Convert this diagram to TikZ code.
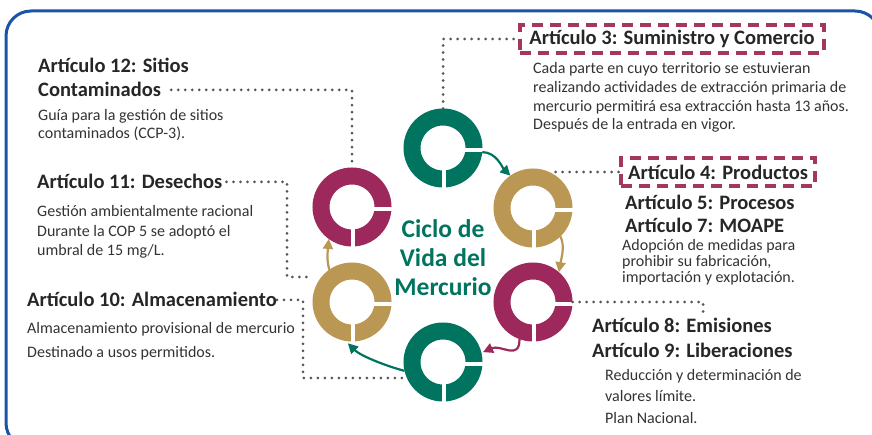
\documentclass[tikz,border=0pt]{standalone}
\usepackage{fontspec}
\setmainfont{Carlito}
\usetikzlibrary{arrows.meta}
\definecolor{tealc}{RGB}{0,116,94}
\definecolor{goldc}{RGB}{186,151,82}
\definecolor{magc}{RGB}{157,40,92}
\definecolor{dashc}{RGB}{163,55,95}
\definecolor{dotc}{RGB}{85,85,85}
\definecolor{txtc}{RGB}{38,38,38}
\definecolor{bodyc}{RGB}{51,51,51}
\definecolor{framec}{RGB}{28,82,168}
\tikzset{
  ring/.style={circle,draw=#1,line width=17pt,minimum size=62pt,inner sep=0pt},
  ringcut/.style={white,line width=3.5pt},
  flowarrow/.style={#1,line width=2.2pt,-{Triangle[length=10pt,width=10pt]}},
  dots/.style={dotc,line width=3pt,line cap=round,dash pattern=on 0pt off 7pt},
  artbox/.style={draw=dashc,line width=4pt,dash pattern=on 11pt off 7pt,inner xsep=9pt,inner ysep=0pt,minimum height=28pt,text=txtc,font=\bfseries\fontsize{20.5}{24}\selectfont},
  arttitle/.style={anchor=base west,inner sep=0pt,text=txtc,font=\bfseries\fontsize{20.5}{24}\selectfont},
  % base = baseline of the last line
  artbody/.style={anchor=base west,inner sep=0pt,align=left,text=bodyc,font=\fontsize{16}{#1}\selectfont},
}
\begin{document}
\begin{tikzpicture}[x=1pt,y=-1pt]
  \useasboundingbox (0,0) rectangle (872,435);
  % frame
  \draw[framec,line width=3pt,rounded corners=25pt] (6,11) rectangle (880,448);
  % Define the rings
  \node[ring=tealc] (r1) at (443,148) {};
  \node[ring=goldc] (r2) at (533,208) {};
  \node[ring=magc]  (r3) at (533,302) {};
  \node[ring=tealc] (r4) at (443,362) {};
  \node[ring=goldc] (r5) at (352,302) {};
  \node[ring=magc]  (r6) at (352,207) {};
  \foreach \r in {r1,r2,r3,r4,r5,r6} {
    \draw[ringcut] ([shift={(20,2)}]\r.center) -- ++(21,0);
    \draw[ringcut] ([shift={(1,20)}]\r.center) -- ++(0,21);}
  % cycle arrows
  \draw[flowarrow=tealc] (r1.-6) .. controls +(14,0) and +(-8,-8) .. (r2.125);
  \draw[flowarrow=goldc] (r2.-46) .. controls +(5,10) and +(2,-12) .. (r3.49);
  \draw[flowarrow=magc] (r3.-110) .. controls +(0,22) and +(18,-8) .. ([shift={(2,1)}]r4.16);
  \draw[flowarrow=tealc] (r4.193) .. controls +(-22,-6) and +(12,12) .. ([yshift=-2pt]r5.-96);
  \draw[flowarrow=goldc] (r5.125) .. controls +(-3,-10) and +(-1,12) .. (r6.-126);
  \node[align=center,text=tealc,font=\bfseries\fontsize{25.5}{29}\selectfont,inner sep=0pt]
    (cv) at (443,258) {Ciclo de\\Vida del\\Mercurio};
  % Articles on the right
  \node[artbox] (t3) at (672,39) {Artículo 3: Suministro y Comercio};
  \node[artbody=18.8] (b3) at (533,130) {Cada parte en cuyo territorio se estuvieran\\realizando actividades de extracción primaria de\\mercurio permitirá esa extracción hasta 13 años.\\Después de la entrada en vigor.};
  \node[artbox,inner xsep=7pt] (t4) at (718,172) {Artículo 4: Productos};
  \node[arttitle] (t5) at (625,210) {Artículo 5: Procesos};
  \node[arttitle] (t7) at (625,233) {Artículo 7: MOAPE};
  \node[artbody=16] (b4) at (622,283) {Adopción de medidas para\\prohibir su fabricación,\\importación y explotación.};
  \node[arttitle] (t8) at (592,332) {Artículo 8: Emisiones};
  \node[arttitle] (t9) at (592,357) {Artículo 9: Liberaciones};
  \node[artbody=21.5] (b8) at (605,423) {Reducción y determinación de\\valores límite.\\Plan Nacional.};
  % Articles on the left
  \node[arttitle] (t12) at (38,73) {Artículo 12: Sitios};
  \node[arttitle] (t12b) at (38,97) {Contaminados};
  \node[artbody=18] (b12) at (38,139) {Guía para la gestión de sitios\\contaminados (CCP-3).};
  \node[arttitle] (t11) at (37,189) {Artículo 11: Desechos};
  \node[artbody=19.5] (b11) at (37,256) {Gestión ambientalmente racional\\Durante la COP 5 se adoptó el\\umbral de 15 mg/L.};
  \node[arttitle] (t10) at (27,307) {Artículo 10: Almacenamiento};
  \node[artbody=24] (b10) at (27,357) {Almacenamiento provisional de mercurio\\Destinado a usos permitidos.};
  % dotted links
  \coordinate (k8) at (703,314);
  \coordinate (k11) at (287,277);
  \coordinate (k10) at (303,378);
  \draw[dots] (r1.north) |- (t3.west);
  \draw[dots] (t4.west -| r2.55) -- (t4.west);
  \draw[dots] (r3.east) -| (k8);
  \draw[dots] ([xshift=10pt]t12b.east) -| (r6.north);
  \draw[dots] ([xshift=4pt]t11.east) -| (k11) -- (k11 -| r5.west);
  \draw[dots] (t10.east) -| (k10) -- (k10 -| r4.west);
\end{tikzpicture}
\end{document}
